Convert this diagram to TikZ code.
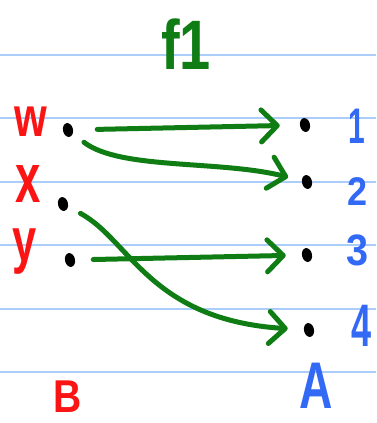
\documentclass[tikz,border=0pt]{standalone}
\usepackage{fontspec}
\setmainfont{Liberation Sans}
\usetikzlibrary{arrows.meta, shapes.geometric}
\definecolor{penred}{RGB}{250,20,20}
\definecolor{pengreen}{RGB}{15,125,20}
\definecolor{penblue}{RGB}{50,105,245}
\definecolor{ruleblue}{RGB}{170,205,250}
\newcommand{\penfont}[1]{\fontsize{#1}{#1}\selectfont\bfseries}
\tikzset{
  rule/.style={ruleblue, line width=1.6pt},
  elem/.style={ellipse, fill=black, minimum width=10pt, minimum height=14pt,
    inner sep=0pt, rotate=12},
  redlbl/.style={text=penred, inner sep=0pt},
  bluelbl/.style={text=penblue, inner sep=0pt},
  greenlbl/.style={text=pengreen, inner sep=0pt},
  maparrow/.style={pengreen, line width=5pt, line cap=round, line join=round,
    -{Straight Barb[length=16pt, width=32pt, line cap=round, line join=round]}}
}

\begin{document}
\begin{tikzpicture}[x=1pt, y=-1pt]
  \useasboundingbox (0,0) rectangle (376,423);
  \fill[white] (0,0) rectangle (376,423);

  % ruled paper
  \foreach \ry in {55,118,182,245,309,372}
    \draw[rule] (0,\ry) -- (376,\ry);

  % title
  \node[greenlbl, font=\penfont{70}, xscale=0.8] (title) at (186,44) {f1};

  % --- domain B ---
  \node[elem] (wd) at (68,130) {};
  \node[elem] (xd) at (63,204) {};
  \node[elem] (yd) at (70,260) {};
  \node[redlbl, font=\penfont{56}, xscale=0.75] (lw) at (31,122) {w};
  \node[redlbl, font=\penfont{70}, xscale=0.65] (lx) at (28,184) {x};
  \node[redlbl, font=\penfont{62}, xscale=0.7] (ly) at (25,252) {y};
  \node[redlbl, font=\penfont{46}, xscale=0.85] (setB) at (68,397) {B};

  % --- codomain A ---
  \node[elem] (d1) at (305,125) {};
  \node[elem] (d2) at (307,182) {};
  \node[elem] (d3) at (307,255) {};
  \node[elem] (d4) at (309,330) {};
  \node[bluelbl, font=\penfont{50}, xscale=0.6] (l1) at (357,126) {1};
  \node[bluelbl, font=\penfont{40}, xscale=0.9] (l2) at (358,192) {2};
  \node[bluelbl, font=\penfont{44}, xscale=0.9] (l3) at (358,250) {3};
  \node[bluelbl, font=\penfont{60}, xscale=0.6] (l4) at (362,326) {4};
  \node[bluelbl, font=\penfont{66}, xscale=0.7] (setA) at (316,386) {A};

  % mapping
  \draw[maparrow, shorten <=24pt, shorten >=20pt] (wd) -- (d1);
  \draw[maparrow, shorten <=14pt, shorten >=14pt]
    (wd) .. controls (120,170) and (220,160) .. (d2);
  \draw[maparrow, shorten <=18pt, shorten >=16pt] (yd) -- (d3);
  \draw[maparrow, shorten <=14pt, shorten >=16pt]
    (xd) .. controls (130,240) and (150,320) .. (d4);
\end{tikzpicture}
\end{document}
